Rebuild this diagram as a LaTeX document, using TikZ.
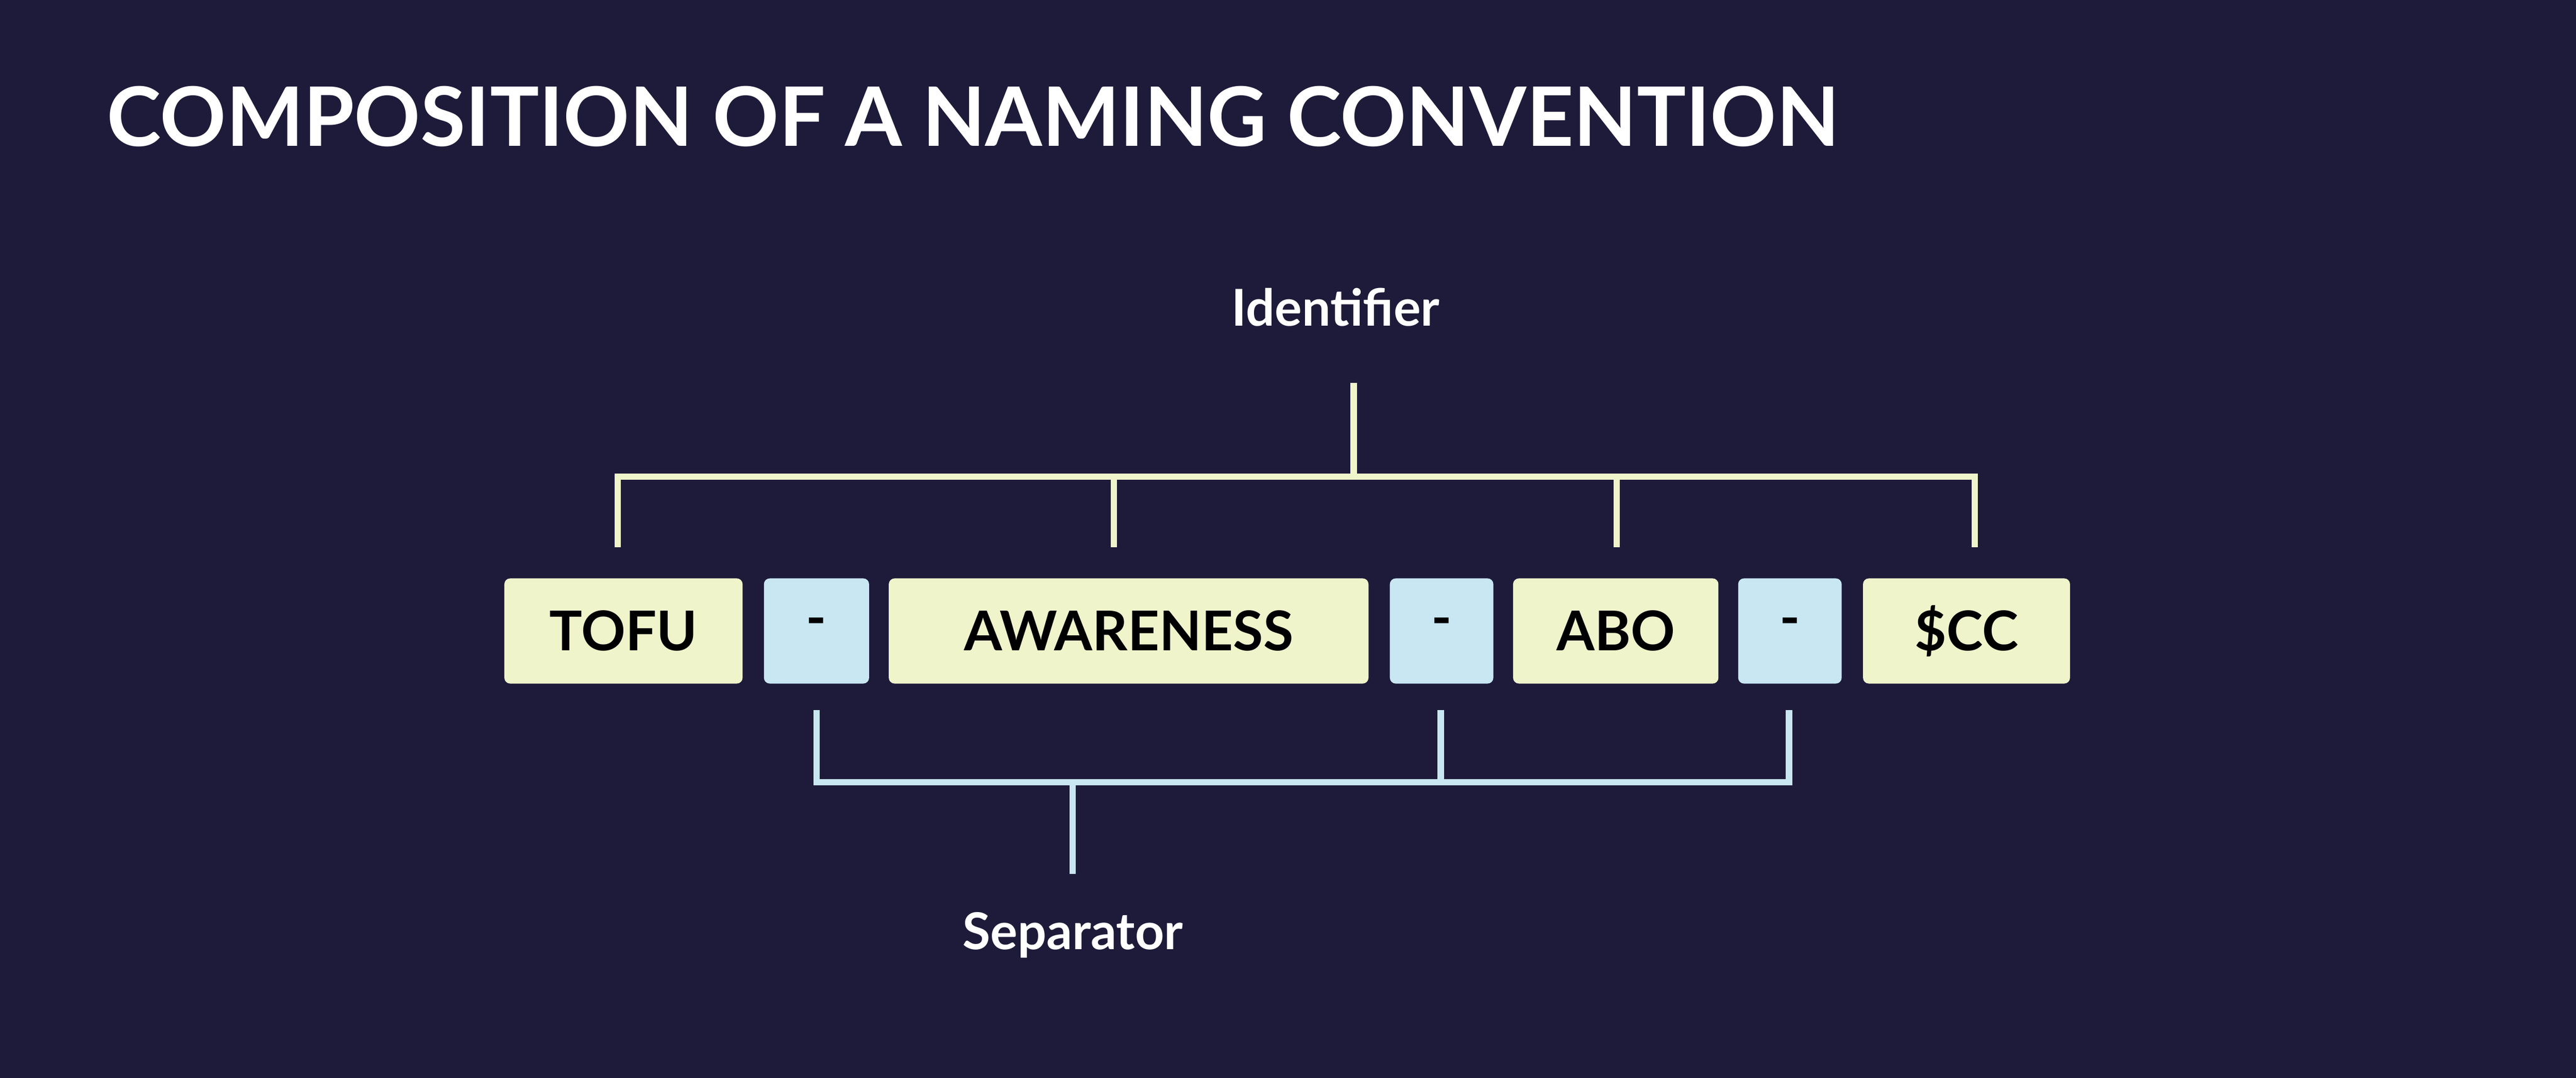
\documentclass[tikz,border=0pt]{standalone}
\usepackage{fontspec}
\setmainfont{Lato}
\definecolor{bg}{HTML}{1E1B3A}
\definecolor{yel}{HTML}{F0F4CB}
\definecolor{blu}{HTML}{C8E7F3}
\begin{document}
\begin{tikzpicture}[x=0.1cm,y=-0.1cm,
  ybox/.style={fill=yel,rounded corners=10pt,inner sep=0pt},
  bbox/.style={fill=blu,rounded corners=10pt,inner sep=0pt},
  lbl/.style={font=\fontsize{95}{100}\selectfont\bfseries,text=black},
  yline/.style={draw=yel,line width=11pt},
  bline/.style={draw=blu,line width=11pt},
  wtxt/.style={text=white,font=\fontsize{88}{95}\selectfont\bfseries}]
\fill[bg] (0,0) rectangle (1568,656);
\useasboundingbox (0,0) rectangle (1568,656);
\node[anchor=west,text=white,inner sep=0pt,font=\fontsize{142}{150}\selectfont\bfseries] (title) at (65,71) {COMPOSITION OF A NAMING CONVENTION};
% boxes
\path[ybox] (307,352) rectangle (452,416); \node[lbl] (b1) at (379.5,384) {TOFU};
\path[bbox] (465,352) rectangle (529,416); \node[lbl] (s1) at (497,382) {-};
\path[ybox] (541,352) rectangle (833,416); \node[lbl] (b2) at (687,384) {AWARENESS};
\path[bbox] (846,352) rectangle (909,416); \node[lbl] (s2) at (877.5,382) {-};
\path[ybox] (921,352) rectangle (1046,416); \node[lbl] (b3) at (983.5,384) {ABO};
\path[bbox] (1058,352) rectangle (1121,416); \node[lbl] (s3) at (1089.5,382) {-};
\path[ybox] (1134,352) rectangle (1260,416); \node[lbl] (b4) at (1197,384) {\$CC};
% identifier bracket
\node[wtxt] (id) at (813,187) {Identifier};
\coordinate (i0) at (824,233);
\coordinate (i1) at (824,290);
\draw[yline] (i0) -- (i1);
\draw[yline,line join=miter] (376,333) -- (376,290) -- (1202,290) -- (1202,333);
\draw[yline] (678,290) -- (678,333);
\draw[yline] (984,290) -- (984,333);
% separator bracket
\draw[bline,line join=miter] (497,432) -- (497,476) -- (1089,476) -- (1089,432);
\draw[bline] (877,432) -- (877,476);
\draw[bline] (653,476) -- (653,532);
\node[wtxt] (sep) at (653,569) {Separator};
\end{tikzpicture}
\end{document}
